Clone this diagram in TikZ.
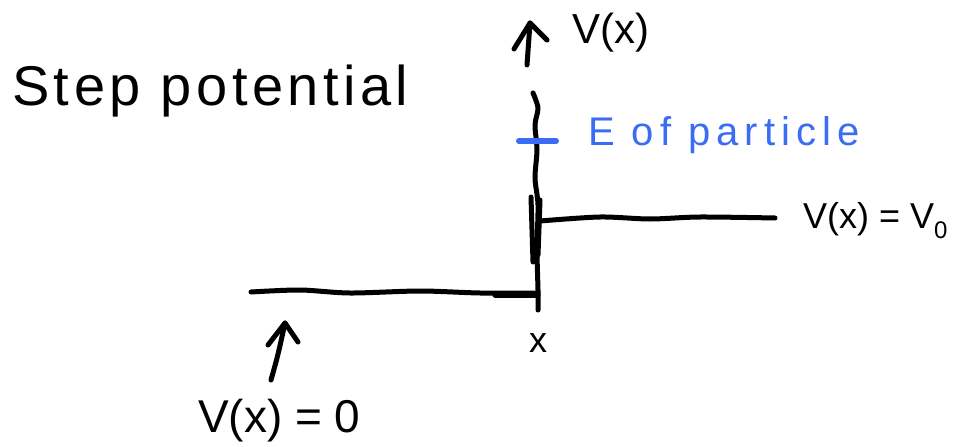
\documentclass[tikz,border=0pt]{standalone}
\usepackage{fontspec}
\setmainfont{Liberation Sans}
\usetikzlibrary{arrows.meta}
\definecolor{penblue}{RGB}{58,108,244}
\begin{document}
\begin{tikzpicture}[x=1pt,y=-1pt,
  ink/.style={line width=5pt, line cap=round, line join=round, black},
  blueink/.style={line width=6pt, line cap=round, penblue},
  lbl/.style={inner sep=0pt, anchor=base west, black}]
\useasboundingbox (0,0) rectangle (964,447);
% title
\node[lbl, font=\fontsize{56}{60}\selectfont\addfontfeatures{LetterSpace=8}] (title) at (12,105) {Step potential};
% vertical axis arrow (top part)
\coordinate (atip) at (530,23);
\coordinate (abot) at (527,65);
\draw[ink] (abot) -- (atip);
\draw[ink] (514,49) -- (atip) -- (547,40);
\node[lbl, font=\fontsize{42}{46}\selectfont] (vx) at (572,43) {V(x)};
% vertical axis line
\draw[ink] plot[smooth] coordinates {(533,93) (538,108) (535,125) (537,150) (535,178) (538,205) (537,250) (538,290) (538,310)};
\draw[ink] (531,197) -- (533,262);
\draw[ink] (540,200) -- (538,255);
% energy level
\coordinate (ea) at (519,141);
\coordinate (eb) at (556,141);
\draw[blueink] (ea) -- (eb);
\node[lbl, text=penblue, font=\fontsize{40}{44}\selectfont\addfontfeatures{LetterSpace=15}] (elbl) at (588,145) {E of particle};
% step top
\draw[ink] plot[smooth] coordinates {(540,221) (600,217) (650,219) (700,217) (775,218)};
\node[lbl, font=\fontsize{36}{40}\selectfont] (vv) at (803,228) {V(x) = V\raisebox{-0.3em}{\fontsize{24}{26}\selectfont 0}};
% bottom line
\draw[ink] plot[smooth] coordinates {(251,292) (300,290) (350,293) (420,291) (480,293) (538,293)};
\draw[ink] (495,295) -- (538,295);
% x label
\node[inner sep=0pt, font=\fontsize{36}{40}\selectfont] (xl) at (538,343) {x};
% bottom arrow
\coordinate (btip) at (285,323);
\coordinate (bbot) at (271,380);
\draw[ink] (bbot) .. controls (278,355) .. (btip);
\draw[ink] (268,345) -- (btip) -- (298,342);
\node[lbl, font=\fontsize{46}{50}\selectfont] (v0) at (198,432) {V(x) = 0};
\end{tikzpicture}
\end{document}
